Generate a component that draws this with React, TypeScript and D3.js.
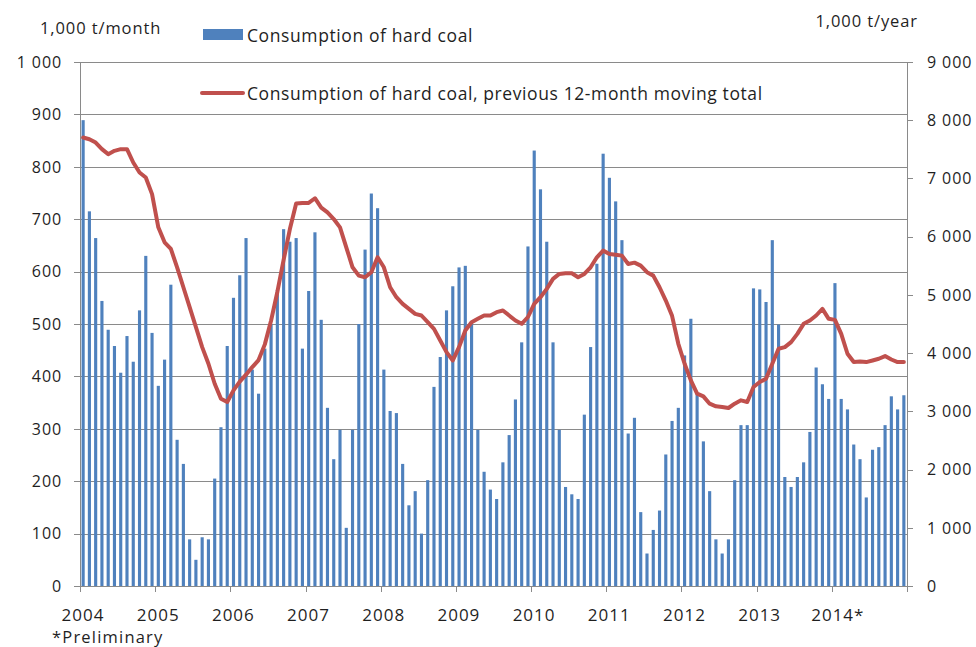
import * as d3 from "d3";

const W = 976;
const H = 647;
const M = { left: 80, right: 907, top: 62, bottom: 586 };

const years = ["2004", "2005", "2006", "2007", "2008", "2009", "2010", "2011", "2012", "2013", "2014*"];

// monthly consumption, 1,000 t (Jan 2004 - Dec 2014)
const monthly = [
  889, 715, 664, 544, 489, 458, 407, 477, 428, 526, 630, 483,
  382, 432, 575, 279, 233, 89, 50, 93, 89, 205, 303, 458,
  550, 593, 664, 413, 367, 453, 500, 565, 681, 657, 664, 453,
  563, 675, 508, 340, 242, 298, 111, 298, 500, 642, 749, 721,
  413, 334, 330, 233, 154, 181, 100, 202, 380, 437, 526, 572,
  608, 611, 500, 298, 218, 184, 166, 236, 288, 356, 465, 648,
  831, 757, 657, 465, 298, 189, 175, 166, 327, 456, 615, 825,
  779, 734, 660, 291, 321, 141, 62, 107, 144, 251, 315, 340,
  440, 510, 367, 276, 181, 89, 62, 89, 202, 307, 307, 568,
  566, 542, 660, 499, 208, 189, 208, 236, 294, 417, 385, 357,
  578, 357, 337, 270, 242, 169, 260, 265, 307, 362, 337, 364,
];

// previous 12-month moving total, 1,000 t/year
const movingTotal = [
  7704, 7674, 7617, 7503, 7417, 7474, 7503, 7503, 7274, 7103, 7017, 6731,
  6160, 5903, 5789, 5474, 5131, 4789, 4446, 4103, 3817, 3474, 3217, 3160,
  3360, 3510, 3630, 3760, 3880, 4150, 4560, 5050, 5600, 6130, 6570, 6580,
  6580, 6660, 6500, 6417, 6303, 6160, 5817, 5474, 5331, 5303, 5389, 5646,
  5474, 5131, 4960, 4846, 4760, 4674, 4646, 4531, 4417, 4217, 4017, 3874,
  4103, 4389, 4531, 4589, 4646, 4646, 4703, 4731, 4646, 4560, 4503, 4620,
  4846, 4960, 5103, 5274, 5360, 5371, 5371, 5303, 5360, 5474, 5646, 5760,
  5703, 5691, 5674, 5531, 5554, 5503, 5389, 5331, 5131, 4903, 4640, 4160,
  3817, 3531, 3303, 3257, 3131, 3086, 3074, 3057, 3131, 3189, 3160, 3417,
  3503, 3560, 3817, 4074, 4103, 4189, 4331, 4503, 4560, 4646, 4760, 4589,
  4571, 4331, 3989, 3846, 3857, 3846, 3874, 3903, 3949, 3890, 3846, 3846,
];

const leftTicks = d3.range(0, 1001, 100);
const rightTicks = d3.range(0, 9001, 1000);

const FONT = "'Open Sans', 'Noto Sans', sans-serif";
const TEXT = "#1f1f1f";
const GRID = "#8a8a8a";

const fmt = (v: number) => (v >= 1000 ? d3.format(",")(v).replace(",", " ") : String(v));

export default function App() {
  const months = d3.range(monthly.length);
  const x = d3
    .scaleBand<number>()
    .domain(months)
    .range([M.left, M.right])
    .paddingInner(0.5)
    .paddingOuter(0.25);
  const step = x.step();
  const yL = d3.scaleLinear().domain([0, 1000]).range([M.bottom, M.top]);
  const yR = d3.scaleLinear().domain([0, 9000]).range([M.bottom, M.top]);

  const line = d3
    .line<number>()
    .x((_, i) => x(i)! + x.bandwidth() / 2)
    .y((d) => yR(d));

  const yearX = years.map((_, i) => x(i * 12)! - step * 0.25);

  return (
    <svg
      width={W}
      height={H}
      style={{ position: "absolute", left: 0, top: 0, background: "#fff" }}
      fontFamily={FONT}
    >
      {/* gridlines */}
      {leftTicks.map((t) => (
        <line
          key={t}
          x1={M.left}
          x2={M.right}
          y1={Math.round(yL(t)) + 0.5}
          y2={Math.round(yL(t)) + 0.5}
          stroke={GRID}
          strokeWidth={1}
        />
      ))}

      {/* bars */}
      {monthly.map((v, i) => (
        <rect
          key={i}
          x={x(i)}
          y={yL(v)}
          width={x.bandwidth()}
          height={yL(0) - yL(v)}
          fill="#4F81BD"
        />
      ))}

      {/* moving total */}
      <path
        d={line(movingTotal) ?? ""}
        fill="none"
        stroke="#C0504D"
        strokeWidth={4}
        strokeLinejoin="round"
        strokeLinecap="round"
      />

      {/* axes */}
      <line x1={M.left + 0.5} x2={M.left + 0.5} y1={M.top} y2={M.bottom} stroke={GRID} />
      <line x1={M.right + 0.5} x2={M.right + 0.5} y1={M.top} y2={M.bottom} stroke={GRID} />
      <line x1={M.left} x2={M.right} y1={M.bottom + 0.5} y2={M.bottom + 0.5} stroke={GRID} />

      {leftTicks.map((t) => (
        <g key={t}>
          <line
            x1={M.left - 6}
            x2={M.left}
            y1={Math.round(yL(t)) + 0.5}
            y2={Math.round(yL(t)) + 0.5}
            stroke={GRID}
          />
          <text
            x={62}
            y={yL(t)}
            dy="0.36em"
            textAnchor="end"
            fontSize={16}
            letterSpacing={0.9}
            fill={TEXT}
          >
            {fmt(t)}
          </text>
        </g>
      ))}

      {rightTicks.map((t) => (
        <g key={t}>
          <line
            x1={M.right}
            x2={M.right + 6}
            y1={Math.round(yR(t)) + 0.5}
            y2={Math.round(yR(t)) + 0.5}
            stroke={GRID}
          />
          <text x={927} y={yR(t)} dy="0.36em" fontSize={16} letterSpacing={0.9} fill={TEXT}>
            {fmt(t)}
          </text>
        </g>
      ))}

      {[...yearX, M.right].map((px, i) => (
        <line
          key={i}
          x1={Math.round(px) + 0.5}
          x2={Math.round(px) + 0.5}
          y1={M.bottom}
          y2={M.bottom + 6}
          stroke={GRID}
        />
      ))}
      {years.map((yr, i) => (
        <text
          key={yr}
          x={yearX[i] + (yr.endsWith("*") ? 6 : 3)}
          y={621}
          textAnchor="middle"
          fontSize={17}
          letterSpacing={1}
          fill={TEXT}
        >
          {yr}
        </text>
      ))}

      <text x={52} y={643} fontSize={16.5} letterSpacing={1.2} fill={TEXT}>
        *Preliminary
      </text>

      {/* units */}
      <text x={40} y={34} fontSize={16.5} letterSpacing={0.9} fill={TEXT}>
        1,000 t/month
      </text>
      <text x={918} y={27} textAnchor="end" fontSize={16.5} letterSpacing={0.9} fill={TEXT}>
        1,000 t/year
      </text>

      {/* legend */}
      <rect x={203} y={29} width={40} height={11} fill="#4F81BD" />
      <text x={247} y={42} fontSize={17.5} letterSpacing={0.6} fill={TEXT}>
        Consumption of hard coal
      </text>
      <line x1={202} x2={243} y1={93} y2={93} stroke="#C0504D" strokeWidth={4} strokeLinecap="round" />
      <text x={247} y={100} fontSize={17.5} letterSpacing={0.6} fill={TEXT}>
        Consumption of hard coal, previous 12-month moving total
      </text>
    </svg>
  );
}
